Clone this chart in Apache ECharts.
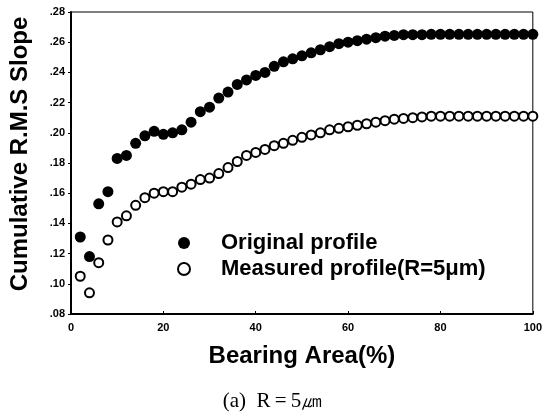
<!DOCTYPE html>
<html>
<head>
<meta charset="utf-8">
<script src="https://cdn.jsdelivr.net/npm/echarts@6/dist/echarts.min.js"></script>
<style>
html,body{margin:0;padding:0;background:#fff;}
#main{width:545px;height:414px;}
</style>
</head>
<body>
<div id="main"></div>
<script>
const bearingArea = [2,4,6,8,10,12,14,16,18,20,22,24,26,28,30,32,34,36,38,40,42,44,46,48,50,52,54,56,58,60,62,64,66,68,70,72,74,76,78,80,82,84,86,88,90,92,94,96,98,100];
const originalProfile = [0.131,0.118,0.153,0.161,0.183,0.185,0.193,0.198,0.201,0.199,0.200,0.202,0.207,0.214,0.217,0.223,0.227,0.232,0.235,0.238,0.240,0.244,0.247,0.249,0.251,0.253,0.255,0.257,0.259,0.260,0.261,0.262,0.263,0.264,0.2645,0.265,0.265,0.265,0.2652,0.2652,0.2652,0.2652,0.2652,0.2652,0.2652,0.2652,0.2652,0.2652,0.2652,0.2652];
const measuredProfile = [0.105,0.094,0.114,0.129,0.141,0.145,0.152,0.157,0.160,0.161,0.161,0.164,0.166,0.169,0.170,0.173,0.177,0.181,0.185,0.187,0.189,0.1915,0.193,0.195,0.197,0.1986,0.200,0.202,0.203,0.204,0.205,0.206,0.207,0.208,0.209,0.2095,0.210,0.2105,0.211,0.211,0.211,0.211,0.211,0.211,0.211,0.211,0.211,0.211,0.211,0.211];
const xTicks = {min:0, max:100, interval:20};
const yTicks = {min:0.08, max:0.28, interval:0.02};
const seriesNames = ['Original profile', 'Measured profile(R=5\u03bcm)'];
const yTitle = 'Cumulative R.M.S Slope';
const xTitle = 'Bearing Area(%)';
const caption = '(a)  R\u2009=\u20095\u339b';

const font = 'Liberation Sans, Arial, sans-serif';
const chart = echarts.init(document.getElementById('main'));
chart.setOption({
  animation: false,
  backgroundColor: '#fff',
  title: {
    text: caption,
    left: 'center',
    top: 386,
    textStyle: {fontFamily: 'Liberation Serif, DejaVu Serif, serif', fontSize: 21, fontWeight: 'normal', color: '#000'}
  },
  grid: {left: 68, right: 6, top: 12, bottom: 100, show: true, borderColor: '#000', borderWidth: 1},
  legend: {
    orient: 'vertical',
    left: 172,
    top: 227,
    itemWidth: 12,
    itemHeight: 12,
    itemGap: 4,
    textStyle: {fontFamily: font, fontSize: 22, fontWeight: 'bold', color: '#000', padding: [0,0,0,26]},
    data: [
      {name: seriesNames[0], icon: 'circle', itemStyle: {color: '#000', borderColor: '#000', borderWidth: 0}},
      {name: seriesNames[1], icon: 'circle', itemStyle: {color: '#fff', borderColor: '#000', borderWidth: 2}}
    ]
  },
  xAxis: {
    type: 'value',
    min: xTicks.min, max: xTicks.max, interval: xTicks.interval,
    name: xTitle,
    nameLocation: 'middle',
    nameGap: 30,
    nameTextStyle: {fontFamily: font, fontSize: 24, fontWeight: 'bold', color: '#000'},
    axisLine: {lineStyle: {color: '#000', width: 2}},
    axisTick: {inside: true, length: 3, lineStyle: {color: '#000'}},
    axisLabel: {fontFamily: font, fontSize: 11, fontWeight: 'bold', color: '#000', margin: 8},
    splitLine: {show: false}
  },
  yAxis: {
    type: 'value',
    min: yTicks.min, max: yTicks.max, interval: yTicks.interval,
    name: yTitle,
    nameLocation: 'middle',
    nameGap: 39,
    nameTextStyle: {fontFamily: font, fontSize: 24, fontWeight: 'bold', color: '#000', padding: [0,0,0,18]},
    axisLine: {lineStyle: {color: '#000', width: 2}},
    axisTick: {inside: false, length: 3, lineStyle: {color: '#000'}},
    axisLabel: {fontFamily: font, fontSize: 11, fontWeight: 'bold', color: '#000', margin: 6,
      formatter: v => v.toFixed(2).replace(/^0/, '')},
    splitLine: {show: false}
  },
  series: [
    {
      name: seriesNames[0], type: 'scatter', symbol: 'circle', symbolSize: 11,
      itemStyle: {color: '#000', opacity: 1},
      data: bearingArea.map((x, i) => [x, originalProfile[i]])
    },
    {
      name: seriesNames[1], type: 'scatter', symbol: 'circle', symbolSize: 9,
      itemStyle: {color: '#fff', borderColor: '#000', borderWidth: 2, opacity: 1},
      data: bearingArea.map((x, i) => [x, measuredProfile[i]])
    }
  ]
});
</script>
</body>
</html>
